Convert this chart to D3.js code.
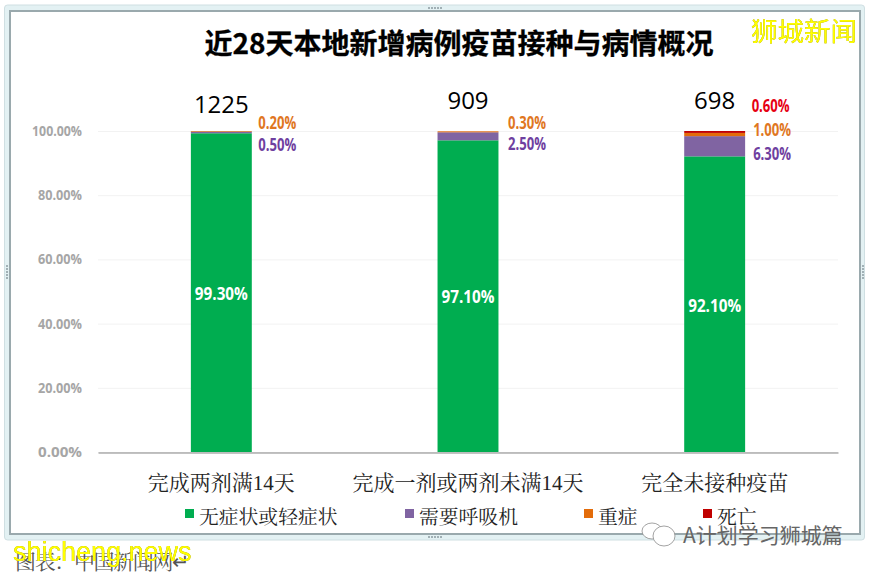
<!DOCTYPE html>
<html>
<head>
<meta charset="utf-8">
<script src="https://cdn.jsdelivr.net/npm/d3@7"></script>
<style>
html, body { margin: 0; padding: 0; background: #fff; overflow: hidden; }
svg { display: block; }
</style>
</head>
<body>
<svg id="chart" width="871" height="573"></svg>
<script>
const categories = ['完成两剂满14天', '完成一剂或两剂未满14天', '完全未接种疫苗'];
const totals = [1225, 909, 698];
const seriesNames = ['无症状或轻症状', '需要呼吸机', '重症', '死亡'];
const mild = [99.3, 97.1, 92.1];
const ventilator = [0.5, 2.5, 6.3];
const severe = [0.2, 0.3, 1.0];
const death = [0, 0, 0.6];
const yTicks = [0, 20, 40, 60, 80, 100];

const colors = ['#00ad50', '#8064a2', '#e36c0a', '#c00000'];
const serif = '"Liberation Serif", "Noto Serif CJK SC", "Noto Sans CJK SC", serif';
const sans = '"Noto Sans CJK SC", "Noto Sans", sans-serif';
const condensed = '"Open Sans", sans-serif';

const svg = d3.select('#chart');

// the chart frame, as it looks when selected in the word processor
svg.append('rect').attr('x', 4.5).attr('y', 5).attr('width', 860).attr('height', 535)
    .attr('rx', 3).attr('fill', '#e3f1f3').attr('stroke', '#cfdfe2').attr('stroke-width', 1);
svg.append('rect').attr('x', 10).attr('y', 11).attr('width', 850).attr('height', 523)
    .attr('fill', '#fff').attr('stroke', '#9aa9ad').attr('stroke-width', 2);

// resize handles on the frame
const handleDots = [[435, 8, 1], [435, 537, 1], [7, 272, 0], [863, 272, 0]];
handleDots.forEach(h => {
    d3.range(-2, 3).forEach(k => {
        svg.append('rect')
            .attr('x', h[0] + (h[2] ? k * 3 : 0) - 0.75)
            .attr('y', h[1] + (h[2] ? 0 : k * 3) - 0.75)
            .attr('width', 1.5).attr('height', 1.5).attr('fill', '#6f7f85');
    });
});

const x = d3.scaleBand().domain(categories).range([98, 838]).paddingInner(0.753).paddingOuter(0.3765);
const y = d3.scaleLinear().domain([0, 100]).range([452, 131]);

// gridlines + labels
const yAxis = d3.axisLeft(y).tickValues(yTicks).tickSize(-740).tickFormat(d => d.toFixed(2) + '%');
const gy = svg.append('g').attr('transform', 'translate(98,0)').call(yAxis);
gy.select('.domain').remove();
gy.selectAll('line').attr('stroke', '#f2f2f2');
gy.selectAll('text')
    .attr('x', -16)
    .attr('fill', '#a6a6a6')
    .attr('font-family', condensed)
    .attr('font-weight', 'bold')
    .attr('font-size', 14)
    .attr('textLength', d => d == 100 ? 50 : 44)
    .attr('lengthAdjust', 'spacingAndGlyphs');

const rows = categories.map((c, i) => ({
    category: c,
    [seriesNames[0]]: mild[i],
    [seriesNames[1]]: ventilator[i],
    [seriesNames[2]]: severe[i],
    [seriesNames[3]]: death[i],
}));
const stacked = d3.stack().keys(seriesNames)(rows);

svg.append('g').selectAll('g')
    .data(stacked)
    .join('g')
    .attr('fill', (d, i) => colors[i])
    .selectAll('rect')
    .data(d => d)
    .join('rect')
    .attr('x', d => x(d.data.category))
    .attr('width', x.bandwidth())
    .attr('y', d => y(d[1]))
    .attr('height', d => y(d[0]) - y(d[1]));

// x axis
const xAxis = d3.axisBottom(x).tickSize(0).tickPadding(23);
const gx = svg.append('g').attr('transform', 'translate(0,452.5)').call(xAxis);
gx.select('.domain').attr('stroke', '#868686');
gx.selectAll('text')
    .attr('fill', '#222')
    .attr('font-family', serif)
    .attr('font-size', 21);

// title
svg.append('text').attr('x', 459).attr('y', 54)
    .attr('text-anchor', 'middle')
    .attr('font-family', sans)
    .attr('font-weight', 'bold')
    .attr('font-size', 28)
    .attr('fill', '#000')
    .attr('stroke', '#000')
    .attr('stroke-width', 0.3)
    .text('近28天本地新增病例疫苗接种与病情概况');

// totals above the bars
const totalY = [113, 109, 109];
svg.append('g').selectAll('text')
    .data(totals)
    .join('text')
    .attr('x', (d, i) => x(categories[i]) + x.bandwidth() / 2)
    .attr('y', (d, i) => totalY[i])
    .attr('text-anchor', 'middle')
    .attr('font-family', '"Open Sans", sans-serif')
    .attr('font-size', 24)
    .attr('fill', '#000')
    .text(d => d);

// labels inside the green bars
svg.append('g').selectAll('text')
    .data(mild)
    .join('text')
    .attr('x', (d, i) => x(categories[i]) + x.bandwidth() / 2)
    .attr('y', (d, i) => [300, 303, 312][i])
    .attr('text-anchor', 'middle')
    .attr('font-family', condensed)
    .attr('font-weight', 'bold')
    .attr('font-size', 18)
    .attr('textLength', 53)
    .attr('lengthAdjust', 'spacingAndGlyphs')
    .attr('fill', '#fff')
    .text(d => d.toFixed(2) + '%');

// small labels to the right of the bars
const sideLabels = [
    { i: 0, values: severe, color: '#e0771f', y: 129, dx: 6.5 },
    { i: 0, values: ventilator, color: '#6f3fa0', y: 151, dx: 6.5 },
    { i: 1, values: severe, color: '#e0771f', y: 129, dx: 9.5 },
    { i: 1, values: ventilator, color: '#6f3fa0', y: 150, dx: 9.5 },
    { i: 2, values: death, color: '#e60012', y: 112, dx: 6.5 },
    { i: 2, values: severe, color: '#e0771f', y: 136, dx: 8 },
    { i: 2, values: ventilator, color: '#6f3fa0', y: 160, dx: 8 },
];
svg.append('g').selectAll('text')
    .data(sideLabels)
    .join('text')
    .attr('x', d => x(categories[d.i]) + x.bandwidth() + d.dx)
    .attr('y', d => d.y)
    .attr('font-family', condensed)
    .attr('font-weight', 'bold')
    .attr('font-size', 18)
    .attr('textLength', 38)
    .attr('lengthAdjust', 'spacingAndGlyphs')
    .attr('fill', d => d.color)
    .text(d => d.values[d.i].toFixed(2) + '%');

// legend
const legendX = [185, 405, 584, 703];
const legend = svg.append('g').selectAll('g')
    .data(seriesNames)
    .join('g')
    .attr('transform', (d, i) => `translate(${legendX[i]},509)`);
legend.append('rect').attr('width', 9).attr('height', 9).attr('fill', (d, i) => colors[i]);
legend.append('text')
    .attr('x', 14).attr('y', 14.5)
    .attr('font-family', serif)
    .attr('font-size', 19.8)
    .attr('fill', '#222')
    .text(d => d);

// text under the frame and the overlaid watermarks
svg.append('text').attr('x', 15).attr('y', 569)
    .attr('font-family', serif).attr('font-size', 21).attr('fill', '#555')
    .attr('textLength', 175).attr('lengthAdjust', 'spacing')
    .text('图表：中国新闻网↵');
svg.append('text').attr('x', 13).attr('y', 561)
    .attr('font-family', '"Liberation Sans", sans-serif').attr('font-size', 27).attr('fill', '#ffff00')
    .style('filter', 'drop-shadow(0.7px 0.7px 0 #8a8000)')
    .text('shicheng.news');
svg.append('text').attr('x', 751).attr('y', 41)
    .attr('font-family', sans).attr('font-size', 26).attr('fill', '#ffff00')
    .style('filter', 'drop-shadow(0.7px 0.7px 0 #8a8000)')
    .attr('textLength', 106).attr('lengthAdjust', 'spacingAndGlyphs')
    .text('狮城新闻');

// wechat mark next to the account name
const wechat = svg.append('g').attr('fill', '#fff').attr('stroke', '#8b8b8b').attr('stroke-width', 0.8);
wechat.append('ellipse').attr('cx', 652).attr('cy', 531).attr('rx', 10).attr('ry', 8);
wechat.append('ellipse').attr('cx', 664).attr('cy', 536).attr('rx', 11).attr('ry', 10);
svg.append('text').attr('x', 683).attr('y', 543)
    .attr('font-family', sans).attr('font-size', 21).attr('fill', '#666')
    .text('A计划学习狮城篇');
</script>
</body>
</html>
